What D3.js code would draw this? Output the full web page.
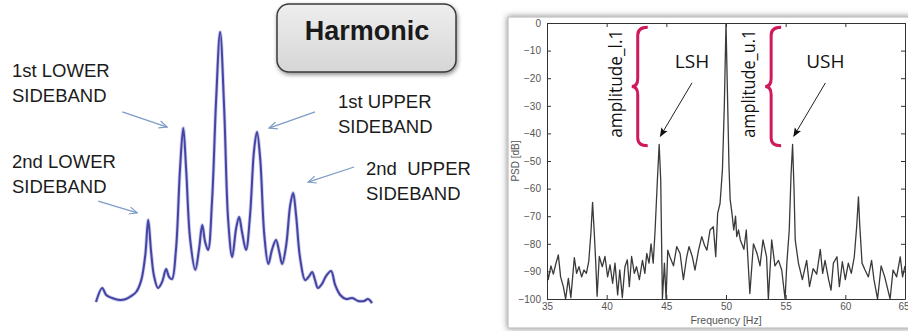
<!DOCTYPE html>
<html>
<head>
<meta charset="utf-8">
<script src="https://cdn.jsdelivr.net/npm/d3@7"></script>
<style>
  body { margin: 0; background: #fff; }
  svg { display: block; }
</style>
</head>
<body>
<svg id="idChart" width="908" height="331"></svg>
<script>
/// left sketch: position in units of the sideband spacing, amplitude in % of the harmonic
const sketchPos = [-3.40, -3.23, -3.12, -2.96, -2.74, -2.58, -2.44, -2.30, -2.16, -2.05, -1.97, -1.89, -1.81, -1.70,
  -1.59, -1.48, -1.40, -1.32, -1.21, -1.10, -1.01, -0.93, -0.82, -0.68, -0.58, -0.49, -0.41, -0.33, -0.22, -0.11,
  0, 0.11, 0.22, 0.33, 0.44, 0.52, 0.60, 0.71, 0.82, 0.93, 1.01, 1.10, 1.21, 1.32, 1.42, 1.53, 1.62, 1.70, 1.81,
  1.92, 2.00, 2.08, 2.19, 2.33, 2.44, 2.52, 2.60, 2.68, 2.79, 2.90, 3.04, 3.15, 3.29, 3.45, 3.62, 3.78, 3.95, 4.05, 4.16];
const sketchAmp = [0, 5.2, 2.6, 1.5, 0.7, 1.1, 2.2, 3.7, 8.1, 17.4, 30.4, 18.5, 9.6, 5.2,
  7.4, 12.2, 9.3, 8.5, 19.3, 48.9, 64.4, 48.9, 23.0, 11.9, 19.3, 28.5, 22.2, 19.3, 37.8, 74.8,
  100, 71.9, 30.4, 16.7, 27.4, 31.5, 25.9, 19.3, 32.2, 56.3, 63.0, 52.6, 24.8, 14.1, 19.3, 23.0, 18.5, 14.1, 21.1,
  35.9, 40.4, 32.2, 16.3, 8.1, 9.6, 11.1, 8.1, 5.2, 6.7, 9.6, 11.5, 6.3, 2.6, 1.1, 1.5, 0.4, 0.4, 1.1, -0.4];
const sidebandLabels = [['1st LOWER', 'SIDEBAND'], ['2nd LOWER', 'SIDEBAND'], ['1st UPPER', 'SIDEBAND'], ['2nd  UPPER', 'SIDEBAND']];
const titleText = 'Harmonic';

/// right spectrum
const freqHz = [35.0, 35.1, 35.33, 35.53, 35.72, 35.95, 36.14, 36.37, 36.56, 36.79, 37.0, 37.29, 37.48, 37.68, 37.9,
  38.1, 38.3, 38.5, 38.68, 38.82, 38.96, 39.08, 39.2, 39.38, 39.63, 39.86, 40.08, 40.28, 40.5, 40.7, 40.92, 41.1,
  41.31, 41.53, 41.73, 41.9, 42.09, 42.32, 42.5, 42.74, 43.0, 43.2, 43.36, 43.55, 43.72, 43.9, 44.06, 44.25, 44.4,
  44.53, 44.67, 44.84, 44.98, 45.12, 45.3, 45.6, 45.87, 46.15, 46.43, 46.71, 46.9, 47.18, 47.4, 47.7, 47.97, 48.2,
  48.4, 48.66, 48.94, 49.14, 49.3, 49.5, 49.7, 49.86, 50.0, 50.12, 50.25, 50.35, 50.5, 50.65, 50.8, 50.9, 51.05,
  51.2, 51.5, 51.7, 52.0, 52.3, 52.6, 52.85, 53.1, 53.4, 53.55, 53.83, 54.1, 54.4, 54.67, 54.95, 55.1, 55.3, 55.45,
  55.58, 55.7, 55.8, 56.07, 56.4, 56.76, 57.0, 57.3, 57.6, 57.9, 58.1, 58.3, 58.6, 58.8, 59.0, 59.3, 59.5, 59.75,
  60.0, 60.25, 60.5, 60.75, 60.95, 61.1, 61.2, 61.4, 61.65, 61.93, 62.2, 62.4, 62.7, 63.0, 63.3, 63.75, 64.0, 64.3,
  64.6, 64.8, 65.0];
const psdDb = [-89, -93, -88, -91, -87.6, -84, -92, -95.5, -100, -92.5, -99.5, -85, -90.7, -88.3, -92,
  -89.5, -90.7, -86.4, -76, -65, -76, -86.4, -99, -84.6, -88.3, -84.6, -92, -87.6, -94.3, -87, -98.5, -89.5,
  -99.5, -88.3, -85.8, -95.5, -84.6, -90.7, -88.3, -93, -86, -90.7, -83.5, -87, -80, -87, -75, -57, -44,
  -57, -100, -87, -100, -82.3, -84.7, -88, -81, -83.5, -93, -84.7, -81, -84.7, -89.5, -82.3, -77.4, -80.5,
  -82.3, -75, -73.8, -84.7, -69, -65.4, -53.3, -30, 0, -25, -52, -64, -69, -75, -70, -77.4, -75,
  -78.6, -82, -75, -98, -80, -83.5, -88, -78.6, -84.7, -100, -78.6, -88, -86, -89.5, -100, -87, -75, -55,
  -44, -60, -78.6, -87, -93, -86, -95.5, -89, -91, -82, -90.7, -86, -93, -96.8, -87, -84.7, -95.5, -86.5,
  -93, -87, -90.7, -84.7, -73.8, -63, -72.6, -87, -89.5, -92, -86, -93, -100, -88, -92, -100, -89.5, -92,
  -84.7, -92, -88];
const freqTicks = [35, 40, 45, 50, 55, 60, 65];
const psdTicks = [0, -10, -20, -30, -40, -50, -60, -70, -80, -90, -100];
const sideHarmonics = [
  { name: 'LSH', amp: 'amplitude_l.1', f: 44.4, db: -44 },
  { name: 'USH', amp: 'amplitude_u.1', f: 55.58, db: -44 }
];

const svg = d3.select('#idChart');
const defs = svg.append('defs');

defs.append('marker').attr('id', 'openHead')
  .attr('viewBox', '0 0 10 10').attr('refX', 9).attr('refY', 5)
  .attr('markerWidth', 9).attr('markerHeight', 9).attr('markerUnits', 'userSpaceOnUse')
  .attr('orient', 'auto')
  .append('path').attr('d', 'M0,1 L9,5 L0,9').attr('fill', 'none').attr('stroke', '#7d9cc6').attr('stroke-width', 1.3);

defs.append('marker').attr('id', 'blackHead')
  .attr('viewBox', '0 0 10 10').attr('refX', 9).attr('refY', 5)
  .attr('markerWidth', 9).attr('markerHeight', 9).attr('markerUnits', 'userSpaceOnUse')
  .attr('orient', 'auto')
  .append('path').attr('d', 'M0,1 L10,5 L0,9 L2,5 Z').attr('fill', '#111');

const grad = defs.append('linearGradient').attr('id', 'btnFill').attr('x1', 0).attr('y1', 0).attr('x2', 0).attr('y2', 1);
grad.append('stop').attr('offset', '0%').attr('stop-color', '#eeeeee');
grad.append('stop').attr('offset', '100%').attr('stop-color', '#d6d6d6');

const shadow = defs.append('filter').attr('id', 'shadow').attr('x', '-10%').attr('y', '-10%').attr('width', '130%').attr('height', '140%');
shadow.append('feDropShadow').attr('dx', 1).attr('dy', 2).attr('stdDeviation', 2).attr('flood-color', '#000').attr('flood-opacity', 0.45);

const frameShadow = defs.append('filter').attr('id', 'frameShadow').attr('x', '-5%').attr('y', '-5%').attr('width', '110%').attr('height', '110%');
frameShadow.append('feDropShadow').attr('dx', 0).attr('dy', 0).attr('stdDeviation', 3).attr('flood-color', '#000').attr('flood-opacity', 0.5);

/** ---------- left: sideband sketch ---------- */
const xL = d3.scaleLinear().domain([-3.4, 4.16]).range([96, 372]);
const yL = d3.scaleLinear().domain([0, 100]).range([302, 32]);

const sketchLine = d3.line()
  .x(i => xL(sketchPos[i]))
  .y(i => yL(sketchAmp[i]))
  .curve(d3.curveCatmullRom.alpha(0.5));

svg.append('path')
  .attr('d', sketchLine(d3.range(sketchPos.length)))
  .attr('fill', 'none')
  .attr('stroke', '#9a9ad8')
  .attr('stroke-width', 3.6)
  .attr('stroke-opacity', 0.5);
svg.append('path')
  .attr('d', sketchLine(d3.range(sketchPos.length)))
  .attr('fill', 'none')
  .attr('stroke', '#4444a4')
  .attr('stroke-width', 2);

// label anchors (px) and arrow ends in sketch units
const labelAt = [[12, 77], [12, 168], [338, 108], [366, 175]];
const arrowAt = [
  [[-2.68, 70.4], [-1.45, 64.8]],
  [[-3.34, 37.4], [-2.27, 33]],
  [[2.60, 70.4], [1.34, 64.4]],
  [[3.67, 50], [2.41, 44.4]]
];

sidebandLabels.forEach((lines, k) => {
  svg.append('text')
    .attr('x', labelAt[k][0])
    .attr('y', labelAt[k][1])
    .style('font-family', 'Liberation Sans, Arial, sans-serif')
    .style('font-size', '18.5px')
    .style('fill', '#1b1b1b')
    .style('white-space', 'pre')
    .selectAll('tspan')
    .data(lines)
    .join('tspan')
    .attr('x', labelAt[k][0])
    .attr('dy', (d, i) => i === 0 ? 0 : 24.5)
    .text(d => d);

  svg.append('line')
    .attr('x1', xL(arrowAt[k][0][0])).attr('y1', yL(arrowAt[k][0][1]))
    .attr('x2', xL(arrowAt[k][1][0])).attr('y2', yL(arrowAt[k][1][1]))
    .attr('stroke', '#7d9cc6')
    .attr('stroke-width', 1.3)
    .attr('marker-end', 'url(#openHead)');
});

// title button
svg.append('rect')
  .attr('x', 277).attr('y', 4).attr('width', 179).attr('height', 68)
  .attr('rx', 12)
  .attr('fill', 'url(#btnFill)')
  .attr('stroke', '#3a3a3a')
  .attr('stroke-width', 1.5)
  .attr('filter', 'url(#shadow)');
svg.append('text')
  .attr('x', 367).attr('y', 40)
  .attr('text-anchor', 'middle')
  .style('font-family', 'Liberation Sans, Arial, sans-serif')
  .style('font-weight', 'bold')
  .style('font-size', '27px')
  .style('fill', '#1a1a1a')
  .text(titleText);

/** ---------- right: measured spectrum ---------- */
svg.append('rect')
  .attr('x', 508).attr('y', 17).attr('width', 404).attr('height', 311)
  .attr('fill', '#fff')
  .attr('stroke', '#b4b4b4')
  .attr('stroke-width', 1)
  .attr('filter', 'url(#frameShadow)');

const x = d3.scaleLinear().domain([35, 65]).range([547, 905]);
const y = d3.scaleLinear().domain([-100, 0]).range([299, 23]);

defs.append('clipPath').attr('id', 'plotClip')
  .append('rect').attr('x', 547).attr('y', 23).attr('width', 358).attr('height', 276);

const psdLine = d3.line()
  .x(i => x(freqHz[i]))
  .y(i => y(psdDb[i]));

svg.append('path')
  .attr('d', psdLine(d3.range(freqHz.length)))
  .attr('clip-path', 'url(#plotClip)')
  .attr('fill', 'none')
  .attr('stroke', '#3a3a3a')
  .attr('stroke-width', 1.3)
  .attr('stroke-linejoin', 'round');

/// MATLAB-style box: inward ticks on all four sides
const tickFont = g => g.selectAll('text')
  .style('font-family', 'Liberation Sans, Arial, sans-serif')
  .style('font-size', '10px')
  .style('fill', '#555');

svg.append('g').attr('transform', 'translate(0,299)')
  .call(d3.axisBottom(x).tickValues(freqTicks).tickSizeInner(-4).tickSizeOuter(0).tickPadding(4))
  .call(g => g.selectAll('line,path').attr('stroke', '#333'))
  .call(tickFont)
  // last label would run past the window edge
  .call(g => g.selectAll('.tick text').filter(d => d === 65).attr('text-anchor', 'end').attr('dx', 4));
svg.append('g').attr('transform', 'translate(547,0)')
  .call(d3.axisLeft(y).tickValues(psdTicks).tickSizeInner(-4).tickSizeOuter(0).tickPadding(6))
  .call(g => g.selectAll('line,path').attr('stroke', '#333'))
  .call(tickFont);
svg.append('g').attr('transform', 'translate(0,23)')
  .call(d3.axisTop(x).tickValues(freqTicks).tickSizeInner(-4).tickSizeOuter(0).tickFormat(''))
  .call(g => g.selectAll('line,path').attr('stroke', '#333'));
svg.append('g').attr('transform', 'translate(905,0)')
  .call(d3.axisRight(y).tickValues(psdTicks).tickSizeInner(-4).tickSizeOuter(0).tickFormat(''))
  .call(g => g.selectAll('line,path').attr('stroke', '#333'));

svg.append('text')
  .attr('transform', `translate(519,${y(-50)}) rotate(-90)`)
  .attr('text-anchor', 'middle')
  .style('font-family', 'Liberation Sans, Arial, sans-serif')
  .style('font-size', '10px')
  .style('fill', '#555')
  .text('PSD [dB]');
svg.append('text')
  .attr('x', x(50)).attr('y', 324)
  .attr('text-anchor', 'middle')
  .style('font-family', 'Liberation Sans, Arial, sans-serif')
  .style('font-size', '10.5px')
  .style('fill', '#555')
  .text('Frequency [Hz]');

// braces from the harmonic level down to each sideband peak
function bracePath(bx, y1, y2, w) {
  const h = w / 2, mid = (y1 + y2) / 2, q = 8;
  return `M${bx + w},${y1} Q${bx + h - 2},${y1} ${bx + h - 2},${y1 + q}` +
    ` L${bx + h - 2},${mid - q} Q${bx + h - 2},${mid} ${bx},${mid}` +
    ` Q${bx + h - 2},${mid} ${bx + h - 2},${mid + q}` +
    ` L${bx + h - 2},${y2 - q} Q${bx + h - 2},${y2} ${bx + w},${y2}`;
}

sideHarmonics.forEach(s => {
  const braceF = s.f - 2.3;
  svg.append('path')
    .attr('d', bracePath(x(braceF), y(-1.5), y(s.db - 0.5), 16))
    .attr('fill', 'none')
    .attr('stroke', '#d0195c')
    .attr('stroke-width', 3);

  svg.append('text')
    .attr('transform', `translate(${x(s.f - 3.15)},${y(-22)}) rotate(-90)`)
    .attr('text-anchor', 'middle')
    .attr('textLength', 108)
    .attr('lengthAdjust', 'spacingAndGlyphs')
    .style('font-family', 'Open Sans, sans-serif')
    .style('font-size', '18px')
    .style('fill', '#111')
    .text(s.amp);

  svg.append('text')
    .attr('x', x(s.f + 2.75)).attr('y', y(-16.3))
    .attr('text-anchor', 'middle')
    .style('font-family', 'Open Sans, sans-serif')
    .style('font-size', '19px')
    .style('fill', '#111')
    .text(s.name);

  svg.append('line')
    .attr('x1', x(s.f + 2.75)).attr('y1', y(-21.7))
    .attr('x2', x(s.f + 0.1)).attr('y2', y(s.db + 3))
    .attr('stroke', '#222')
    .attr('stroke-width', 1)
    .attr('marker-end', 'url(#blackHead)');
});
</script>
</body>
</html>
